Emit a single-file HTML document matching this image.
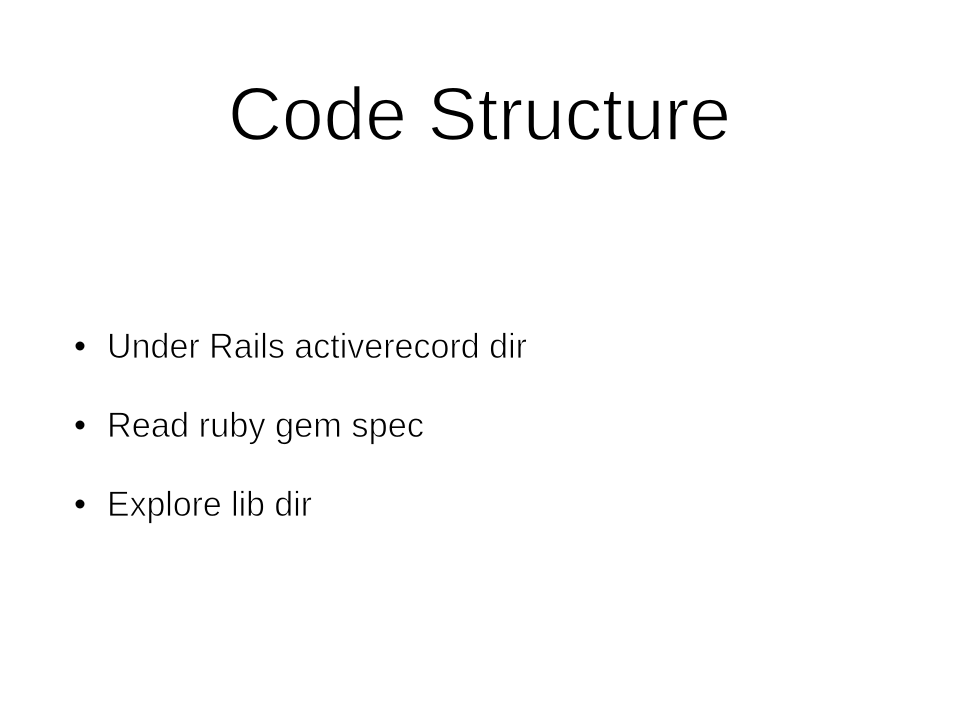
<!DOCTYPE html>
<html><head><meta charset="utf-8"><style>
html,body{margin:0;padding:0;background:#fff;}
svg{display:block;}
text{font-family:"Liberation Sans",sans-serif;fill:#000;}
</style></head><body>
<svg width="959" height="720" viewBox="0 0 959 720" xmlns="http://www.w3.org/2000/svg">
<rect width="959" height="720" fill="#fff"/>
<text x="228" y="140" font-size="75" textLength="503" lengthAdjust="spacingAndGlyphs" stroke="#fff" stroke-width="1.5">Code Structure</text>
<circle cx="80" cy="346" r="4.5" fill="#000"/>
<circle cx="80" cy="425" r="4.5" fill="#000"/>
<circle cx="80" cy="504" r="4.5" fill="#000"/>
<g font-size="35" stroke="#fff" stroke-width="0.8">
<text x="107" y="358" textLength="420" lengthAdjust="spacingAndGlyphs">Under Rails activerecord dir</text>
<text x="107" y="437" textLength="317" lengthAdjust="spacingAndGlyphs">Read ruby gem spec</text>
<text x="107" y="516" textLength="205" lengthAdjust="spacingAndGlyphs">Explore lib dir</text>
</g>
</svg>
</body></html>
